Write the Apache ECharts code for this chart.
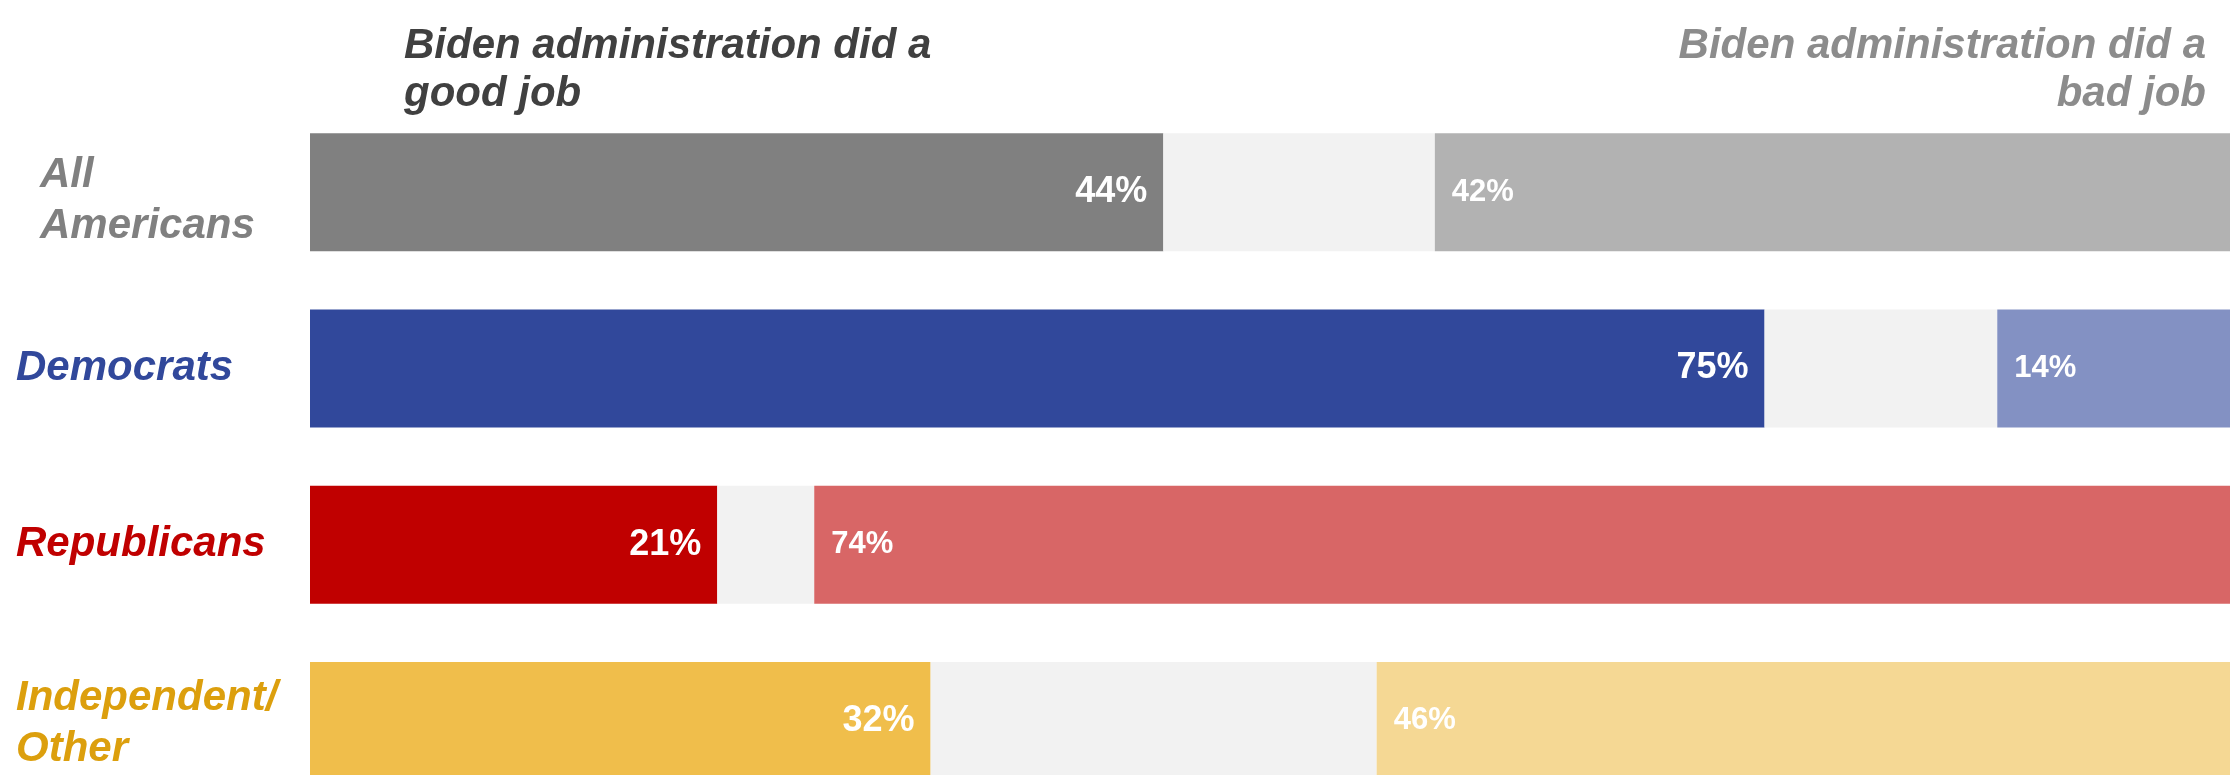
<!DOCTYPE html>
<html>
<head>
<meta charset="utf-8">
<script src="https://cdn.jsdelivr.net/npm/echarts@6/dist/echarts.min.js"></script>
<style>
html,body{margin:0;padding:0;background:#fff;}
#chart{width:2230px;height:775px;}
</style>
</head>
<body>
<div id="chart"></div>
<script>
// ---- data ----
const categories = ['All Americans', 'Democrats', 'Republicans', 'Independent/Other'];
const goodJob = [44, 75, 21, 32];
const neither = [14, 12, 5, 23];
const badJob = [42, 14, 74, 46];
const headerGood = ['Biden administration did a', 'good job'];
const headerBad = ['Biden administration did a', 'bad job'];

// ---- styles ----
const goodColors = ['#808080', '#31489b', '#c00000', '#f0be4b'];
const badColors = ['#b2b2b2', '#8391c3', '#d86666', '#f5d894'];
const labelColors = ['#808080', '#31489b', '#c00000', '#dc9f0d'];
const gapColor = '#f2f2f2';
const FONT = '"Liberation Sans", Arial, Helvetica, sans-serif';
const HEADER_FONT = 'italic bold 42px ' + FONT;

const chart = echarts.init(document.getElementById('chart'), null, {renderer: 'canvas'});

const richStyles = {};
const richKeys = ['aa', 'dem', 'rep', 'ind'];
richKeys.forEach((k, i) => {
  richStyles[k] = {color: labelColors[i], fontSize: 42, fontWeight: 'bold', fontStyle: 'italic', fontFamily: FONT, lineHeight: 51};
});
richStyles.aa = Object.assign({}, richStyles.aa, {padding: [18, 0, 0, 24]});
richStyles.ind = Object.assign({}, richStyles.ind, {padding: [6, 0, 0, 0]});

function catLabel(value) {
  const i = categories.indexOf(value);
  if (i === 0) return '{aa|All}\n{aa|Americans}';
  if (i === 3) return '{ind|Independent/}\n{ind|Other}';
  return '{' + richKeys[i] + '|' + value + '}';
}

const graphics = [];
headerGood.forEach((t, j) => graphics.push({
  type: 'text', left: 404, top: 25 + j * 48,
  style: {text: t, fill: '#404040', font: HEADER_FONT}
}));
headerBad.forEach((t, j) => graphics.push({
  type: 'text', right: 24, top: 25 + j * 48,
  style: {text: t, fill: '#8c8c8c', font: HEADER_FONT}
}));

const option = {
  backgroundColor: '#ffffff',
  animation: false,
  graphic: graphics,
  grid: {left: 310, right: 0, top: 104, height: 705, containLabel: false, outerBoundsMode: 'none'},
  xAxis: {type: 'value', min: 0, max: 99, show: false},
  yAxis: {
    type: 'category', inverse: true, data: categories,
    axisLine: {show: false}, axisTick: {show: false}, splitLine: {show: false},
    axisLabel: {align: 'left', margin: 294, formatter: catLabel, rich: richStyles}
  },
  series: [
    {
      name: 'Good job', type: 'bar', stack: 'total', barWidth: 118,
      data: goodJob.map((v, i) => ({value: v, itemStyle: {color: goodColors[i]}})),
      label: {show: true, position: 'insideRight', distance: 16, formatter: '{c}%', color: '#fff',
              fontSize: 36, fontWeight: 'bold', fontFamily: FONT}
    },
    {
      name: 'Neither', type: 'bar', stack: 'total', barWidth: 118,
      data: neither.map(v => ({value: v, itemStyle: {color: gapColor}})),
      label: {show: false}
    },
    {
      name: 'Bad job', type: 'bar', stack: 'total', barWidth: 118,
      data: badJob.map((v, i) => ({value: v, itemStyle: {color: badColors[i]}})),
      label: {show: true, position: 'insideLeft', distance: 17, formatter: '{c}%', color: '#fff',
              fontSize: 31, fontWeight: 'bold', fontFamily: FONT}
    }
  ]
};
chart.setOption(option);
</script>
</body>
</html>
